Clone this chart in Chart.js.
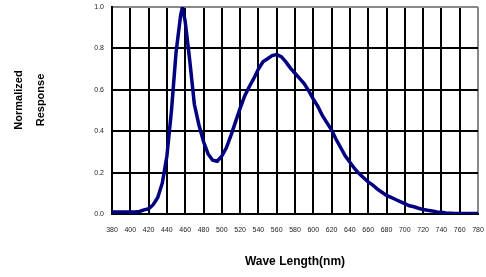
<!DOCTYPE html>
<html>
<head>
<meta charset="utf-8">
<script src="https://cdn.jsdelivr.net/npm/chart.js@4/dist/chart.umd.min.js"></script>
<style>
  html, body { margin: 0; padding: 0; background: #fff; }
  #wrap { width: 486px; height: 277px; }
</style>
</head>
<body>
<div id="wrap"><canvas id="chart" width="486" height="277"></canvas></div>
<script>
// wavelength (nm) and normalized response
const waveLengths = [
  380, 385, 390, 395, 400, 405, 410, 415, 420, 425, 430, 435, 440, 445, 450, 455, 457,
  460, 465, 470, 475, 480, 485, 490, 495, 500, 505, 510, 515, 520, 525, 530, 535, 540,
  545, 550, 555, 560, 565, 570, 575, 580, 585, 590, 595, 600, 605, 610, 615, 620, 625,
  630, 635, 640, 645, 650, 655, 660, 665, 670, 675, 680, 685, 690, 695, 700, 705, 710,
  715, 720, 725, 730, 735, 740, 745, 750, 755, 760, 765, 770, 775, 780
];
const response = [
  0.01, 0.01, 0.01, 0.01, 0.01, 0.01, 0.012, 0.02, 0.025, 0.045, 0.08, 0.15, 0.28, 0.5, 0.78, 0.96, 1.0,
  0.93, 0.74, 0.53, 0.43, 0.35, 0.29, 0.26, 0.255, 0.28, 0.32, 0.38, 0.445, 0.51, 0.57, 0.615, 0.655, 0.70,
  0.735, 0.75, 0.765, 0.77, 0.76, 0.735, 0.705, 0.68, 0.655, 0.63, 0.595, 0.555, 0.52, 0.475, 0.44, 0.405, 0.36,
  0.32, 0.28, 0.25, 0.22, 0.195, 0.175, 0.155, 0.14, 0.12, 0.105, 0.09, 0.08, 0.07, 0.06, 0.05, 0.04, 0.035,
  0.028, 0.022, 0.018, 0.015, 0.01, 0.008, 0.005, 0.004, 0.003, 0.003, 0.002, 0.002, 0.002, 0.002
];
const xTicks = [380, 400, 420, 440, 460, 480, 500, 520, 540, 560, 580, 600, 620, 640, 660, 680, 700, 720, 740, 760, 780];
const yTicks = [0.0, 0.2, 0.4, 0.6, 0.8, 1.0];
const xTitle = "Wave Length(nm)";
const yTitle = ["Normalized", "Response"];

const FONT = "'Liberation Sans', Arial, sans-serif";

// y axis title, drawn by hand so it sits where the original has it
const yTitlePlugin = {
  id: "yTitle",
  afterDraw(chart) {
    const ctx = chart.ctx;
    ctx.save();
    ctx.font = "bold 11px " + FONT;
    ctx.fillStyle = "#000";
    ctx.textAlign = "center";
    ctx.textBaseline = "middle";
    ctx.translate(30, 100);
    ctx.rotate(-Math.PI / 2);
    ctx.fillText(yTitle[0], 0, -11);
    ctx.fillText(yTitle[1], 0, 11);
    ctx.restore();
  }
};

new Chart(document.getElementById("chart"), {
  type: "line",
  data: {
    datasets: [{
      data: waveLengths.map((w, i) => ({ x: w, y: response[i] })),
      borderColor: "#000080",
      borderWidth: 3.5,
      pointRadius: 0,
      tension: 0,
      fill: false
    }]
  },
  options: {
    responsive: false,
    animation: false,
    events: [],
    layout: { padding: { left: 0, right: 8, top: 7, bottom: 0 } },
    plugins: { legend: { display: false }, tooltip: { enabled: false } },
    scales: {
      x: {
        type: "linear",
        min: 380,
        max: 780,
        afterBuildTicks: axis => { axis.ticks = xTicks.map(v => ({ value: v })); },
        ticks: {
          font: { family: FONT, size: 7 },
          color: "#222",
          padding: 12,
          maxRotation: 0,
          autoSkip: false
        },
        grid: {
          drawTicks: false,
          lineWidth: 2,
          color: c => (c.tick && c.tick.value === 780 ? "#888" : "#000")
        },
        border: { color: "#000", width: 2 },
        title: {
          display: true,
          text: xTitle,
          font: { family: FONT, size: 12, weight: "bold" },
          color: "#000",
          padding: { top: 17, bottom: 8 }
        },
        afterFit: axis => {
          axis.height = 63;
          axis.paddingLeft = 0;
          axis.paddingRight = 0;
        }
      },
      y: {
        min: 0,
        max: 1,
        afterBuildTicks: axis => { axis.ticks = yTicks.map(v => ({ value: v })); },
        ticks: {
          font: { family: FONT, size: 7 },
          color: "#222",
          padding: 8,
          callback: v => v.toFixed(1)
        },
        grid: {
          drawTicks: false,
          lineWidth: 2,
          color: c => (c.tick && c.tick.value === 1 ? "#888" : "#000")
        },
        border: { color: "#000", width: 2 },
        afterFit: axis => {
          axis.width = 112;
          axis.paddingTop = 0;
          axis.paddingBottom = 0;
        }
      }
    }
  },
  plugins: [yTitlePlugin]
});
</script>
</body>
</html>
